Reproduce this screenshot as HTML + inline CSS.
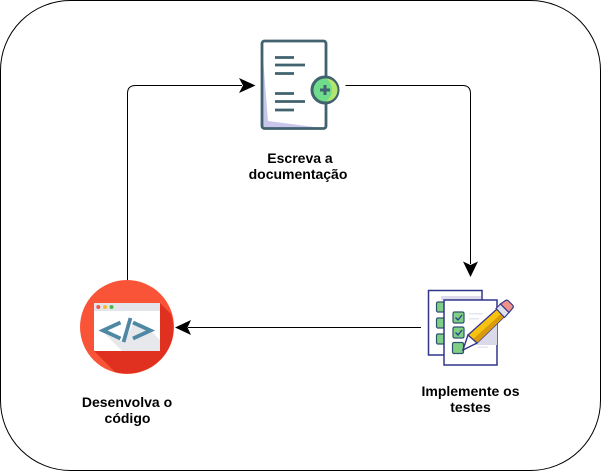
<!DOCTYPE html>
<html>
<head>
<meta charset="utf-8">
<style>
html,body{margin:0;padding:0;background:#fff;width:601px;height:471px;overflow:hidden}
svg{display:block}
text{font-family:"Liberation Sans",sans-serif;font-size:14px;font-weight:bold;fill:#000;text-anchor:middle}
</style>
</head>
<body>
<svg width="601" height="471" viewBox="0 0 601 471" xmlns="http://www.w3.org/2000/svg">
<rect x="0.5" y="0.5" width="600" height="470" rx="70" ry="70" fill="#fff" stroke="#000"/>

<!-- connectors -->
<path d="M345.500 85.500H462.500Q470.500 85.500 470.500 93.500V264" fill="none" stroke="#000"/>
<path d="M470.500 277L463 261.500L470.500 265L478 261.500Z" fill="#000"/>
<path d="M127.500 280V93.500Q127.500 85.500 135.500 85.500H242" fill="none" stroke="#000"/>
<path d="M255.500 85.500L239 93L243 85.500L239 78Z" fill="#000"/>
<path d="M421 327.500H188" fill="none" stroke="#000"/>
<path d="M175 327.500L191 320L187.500 327.500L191 335Z" fill="#000"/>

<!-- document icon -->
<rect x="262" y="41" width="64" height="87.500" rx="2.500" fill="#fff"/>
<path d="M263 58L268 121L318 127.500H263Z" fill="#c9c6ec"/>
<rect x="262" y="41" width="64" height="87.500" rx="2.500" fill="none" stroke="#41626f" stroke-width="2.800"/>
<g stroke="#41626f" stroke-width="2.800" fill="none">
<path d="M275 57.500H294M275 65H305M275 73.500H294M275 93.500H294M275 101.500H305M275 110H294"/>
</g>
<circle cx="325" cy="90" r="13" fill="#6fdc8c" stroke="#41626f" stroke-width="3"/>
<path d="M326 78.500A11.500 11.500 0 0 1 326 101.500A14 14 0 0 0 326 78.500Z" fill="#b3e66f"/>
<path d="M325 85V95M320 90H330" stroke="#41626f" stroke-width="3" fill="none"/>

<!-- code icon -->
<circle cx="127" cy="327" r="47" fill="#fa5438"/>
<path d="M160 303L171 314A47 47 0 0 1 172 340A47 47 0 0 1 115 372L94 351H160Z" fill="#e0301f"/>
<rect x="94" y="303" width="66" height="48" rx="1" fill="#fff"/>
<path d="M94 311V304Q94 303 95 303H159Q160 303 160 304V311Z" fill="#e4e5ea"/>
<path d="M105 334L122 351H160V340L147 327L134 322L124 342Z" fill="#e7e8ec"/>
<circle cx="98.300" cy="307" r="2" fill="#f0564e"/>
<circle cx="105" cy="307" r="2" fill="#f7b82f"/>
<circle cx="111.500" cy="307" r="2" fill="#4cb84b"/>
<g fill="none" stroke="#4f88a4" stroke-width="3.800">
<path d="M120.500 322.500L103 330.500L120.500 338.500"/>
<path d="M123.500 342L130.500 318"/>
<path d="M133 322.500L150.500 330.500L133 338.500"/>
</g>

<!-- tests icon -->
<rect x="428.500" y="290.500" width="53.500" height="64.500" fill="#fff" stroke="#31358c" stroke-width="1.500"/>
<rect x="436.500" y="302" width="9" height="10" rx="1.500" fill="#7fcf85" stroke="#31526f" stroke-width="1.200"/>
<rect x="436.500" y="318" width="9" height="10" rx="1.500" fill="#7fcf85" stroke="#31526f" stroke-width="1.200"/>
<rect x="436.500" y="334" width="9" height="10" rx="1.500" fill="#7fcf85" stroke="#31526f" stroke-width="1.200"/>
<path d="M441 296H481V300H441Z" fill="#dcdcec"/>
<rect x="444" y="300" width="53" height="65" fill="#fff" stroke="#31358c" stroke-width="1.500"/>
<path d="M469 313H483V314.500H469ZM469 318H479V319.500H469ZM478 346.500H488V348H478Z" fill="#e4e6f2"/>
<path d="M473 345L497 320V345Z" fill="#d9d9ea"/>
<rect x="453" y="312" width="11" height="11" rx="1.500" fill="#7fcf85" stroke="#31526f" stroke-width="1.200"/>
<rect x="453" y="327" width="11" height="11" rx="1.500" fill="#7fcf85" stroke="#31526f" stroke-width="1.200"/>
<rect x="452.500" y="342.500" width="11" height="11" rx="1.500" fill="#7fcf85" stroke="#31526f" stroke-width="1.200"/>
<path d="M455.500 317.500L458 320L462 315M455.500 332.500L458 335L462 330" fill="none" stroke="#2e3f8f" stroke-width="1.400"/>
<path d="M463 350L468 335L497 309L504 317L477 343Z" fill="#f9c20f" stroke="#31358c" stroke-width="1.300"/>
<path d="M472 340L501 314L504 317L477 343Z" fill="#d99a0c"/>
<path d="M463 350L468 335L477 343Z" fill="#fff" stroke="#31358c" stroke-width="1.300"/>
<path d="M496 308.500L500.500 304L509 312.500L504.500 317.500Z" fill="#dfe1ea" stroke="#31358c" stroke-width="1.100"/>
<path d="M500.500 304L505.500 300.500Q507 299.500 508.500 301L512.500 305Q514 306.500 512.800 308L509 312.500Z" fill="#f0918a" stroke="#31358c" stroke-width="1.200"/>

<!-- labels -->
<text x="300" y="163">Escreva a</text>
<text x="298" y="179">documentação</text>
<text x="127" y="407">Desenvolva o</text>
<text x="127.500" y="423">código</text>
<text x="470.500" y="396">Implemente os</text>
<text x="470.500" y="412">testes</text>
</svg>
</body>
</html>
